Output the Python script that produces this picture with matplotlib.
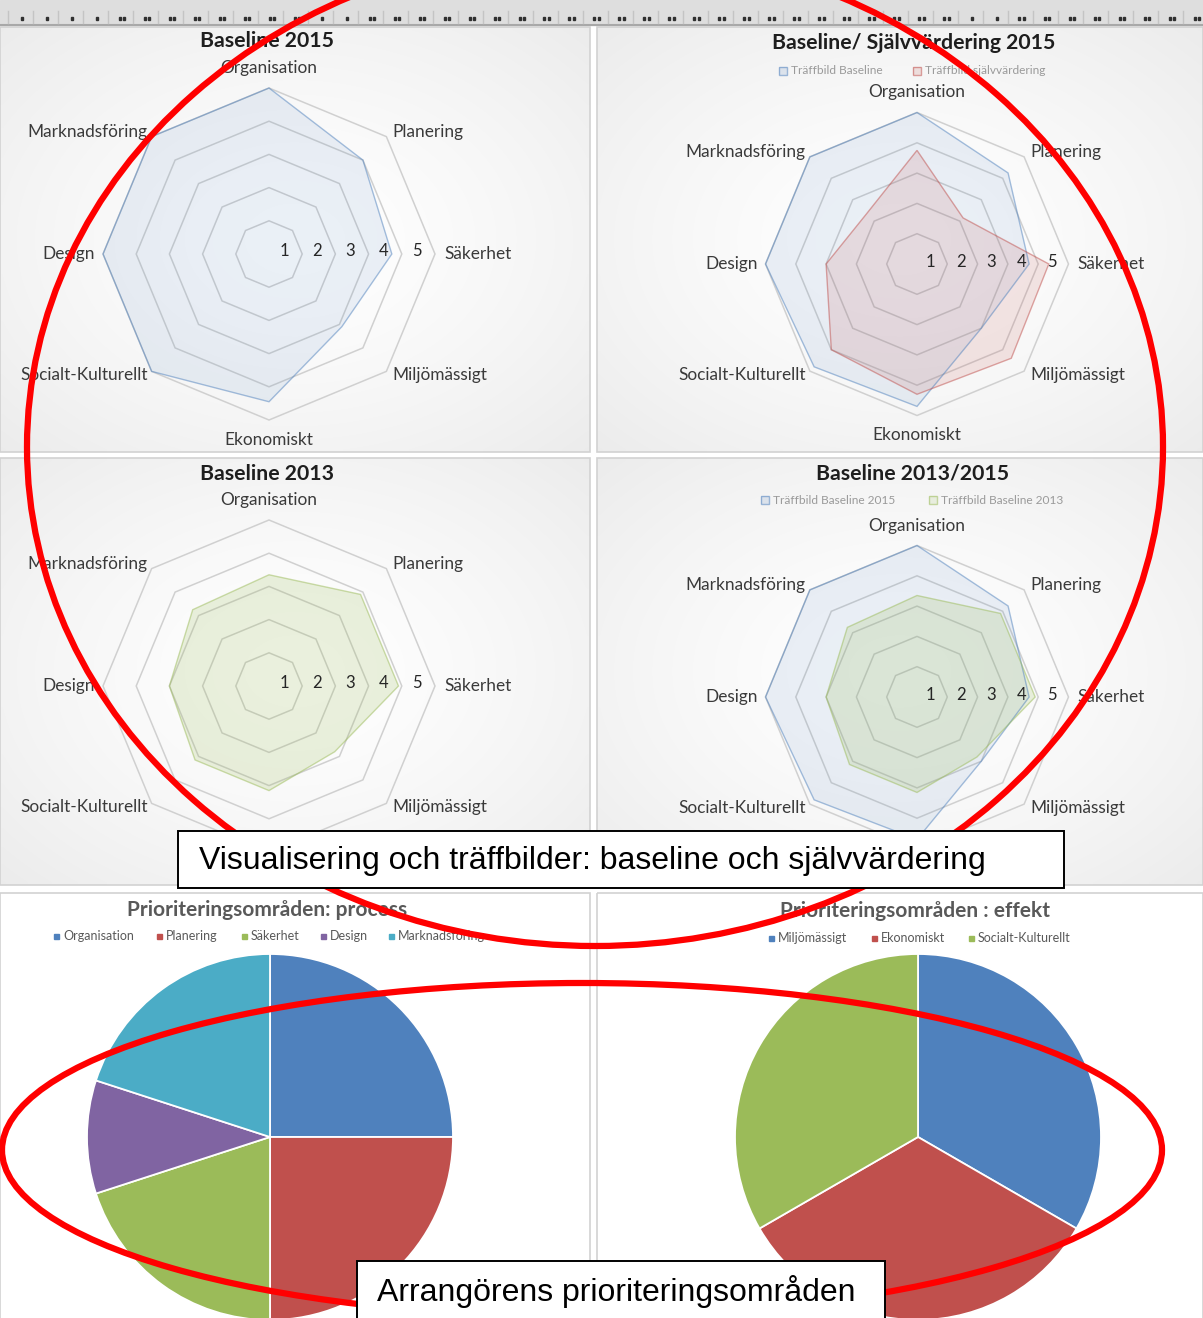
import numpy as np
import matplotlib
matplotlib.use("Agg")
import matplotlib.pyplot as plt
from matplotlib.patches import Rectangle, Ellipse, Polygon

plt.rcParams['font.family'] = ['Lato', 'DejaVu Sans']

# ---- data ----
categories = ["Organisation", "Planering", "Säkerhet", "Miljömässigt",
              "Ekonomiskt", "Socialt-Kulturellt", "Design", "Marknadsföring"]
scale_ticks = [1, 2, 3, 4, 5]

baseline_2015 = [5.0, 4.0, 3.7, 3.1, 4.45, 5.0, 5.0, 5.0]
baseline_2015_b = [5.0, 4.25, 3.7, 3.0, 4.7, 4.8, 5.0, 5.0]
sjalvvardering_2015 = [3.75, 2.15, 4.35, 4.4, 4.3, 4.0, 3.0, 2.35]
baseline_2013 = [3.35, 3.9, 3.9, 2.8, 3.15, 3.15, 3.0, 3.25]

process_labels = ["Organisation", "Planering", "Säkerhet", "Design", "Marknadsföring"]
process_values = [25, 25, 20, 10, 20]
effekt_labels = ["Miljömässigt", "Ekonomiskt", "Socialt-Kulturellt"]
effekt_values = [1, 1, 1]

# word ruler: number of dots in each 25 px segment
ruler_dots = [1] * 4 + [2] * 8 + [1] * 2 + [2] * 24 + [1] * 2 + [2] * 8

BLUE = "#4F81BD"
RED = "#C0504D"
GREEN = "#9BBB59"
PURPLE = "#8064A2"
CYAN = "#4BACC6"

W, H = 1203, 1318
fig = plt.figure(figsize=(W / 100, H / 100), dpi=100)
fig.patch.set_facecolor("white")

# background axes in pixel coordinates
bg = fig.add_axes([0, 0, 1, 1])
bg.set_xlim(0, W)
bg.set_ylim(H, 0)
bg.axis("off")

# ruler
bg.add_patch(Rectangle((0, 0), W, 25, color="#DEDEDE", zorder=1))
bg.plot([0, W], [24.5, 24.5], color="#A8A8A8", lw=1.5, zorder=2)
for k, n in enumerate(ruler_dots):
    xd = 8.3 + 25 * k
    bg.plot([xd, xd], [11, 23], color="#C4C4C4", lw=1, zorder=2)
    xc = xd + 13.4
    offs = [0] if n == 1 else [-2.2, 2.2]
    for o in offs:
        bg.add_patch(Rectangle((xc + o - 1, 16.5), 2, 3, color="#303030", zorder=3))


def panel_bg(x0, y0, x1, y1, gradient=True):
    if gradient:
        yy, xx = np.mgrid[0:1:80j, 0:1:100j]
        d = np.sqrt(((xx - 0.5) / 0.5) ** 2 + ((yy - 0.5) / 0.5) ** 2) / np.sqrt(2)
        v = 1 - 0.075 * d ** 1.4
        img = np.dstack([v, v, v])
        bg.imshow(img, extent=(x0, x1, y1, y0), aspect="auto",
                  interpolation="bilinear", zorder=1)
    bg.add_patch(Rectangle((x0, y0), x1 - x0, y1 - y0, fill=False,
                           ec="#D2D2D2", lw=1.2, zorder=2))


panel_bg(0, 27, 590, 452)
panel_bg(597, 27, 1203, 452)
panel_bg(0, 458, 590, 885)
panel_bg(597, 458, 1203, 885)
panel_bg(0, 893, 590, 1330, gradient=False)
panel_bg(597, 893, 1203, 1330, gradient=False)
bg.set_xlim(0, W)
bg.set_ylim(H, 0)

label_style = [
    (0, 12, "center", "bottom"),
    (6, 5, "left", "center"),
    (9, 0, "left", "center"),
    (6, -4, "left", "center"),
    (0, -12, "center", "top"),
    (-4, -4, "right", "center"),
    (-8, 0, "right", "center"),
    (-4, 5, "right", "center"),
]


def radar(cx, cy, scale, series):
    L = 7.0
    size = 2 * L * scale
    ax = fig.add_axes([(cx - size / 2) / W, 1 - (cy + size / 2) / H, size / W, size / H])
    ax.set_xlim(-L, L)
    ax.set_ylim(-L, L)
    ax.axis("off")
    ang = np.deg2rad(np.arange(len(categories)) * 45)
    for k in scale_ticks:
        ax.add_patch(Polygon(np.c_[k * np.sin(ang), k * np.cos(ang)], closed=True,
                             fill=False, ec="#D0D0D0", lw=1.1, zorder=1))
    for vals, color, fa in series:
        v = np.array(vals)
        ax.fill(v * np.sin(ang), v * np.cos(ang), fc=color, alpha=fa, zorder=2)
        ax.fill(v * np.sin(ang), v * np.cos(ang), fill=False, ec=color, alpha=0.5,
                lw=1.0, zorder=3)
    for k in scale_ticks:
        ax.text(k - 0.55, 0.08, str(k), ha="center", va="center", fontsize=12,
                color="#262626", zorder=4)
    for i, cat in enumerate(categories):
        dx, dy, ha, va = label_style[i]
        ax.annotate(cat, xy=(5 * np.sin(ang[i]), 5 * np.cos(ang[i])),
                    xytext=(dx * 0.72, dy * 0.72), textcoords="offset points",
                    ha=ha, va=va, fontsize=12.4, color="#3A3A3A", zorder=4)
    return ax


radar(269, 254, 33.2, [(baseline_2015, BLUE, 0.11)])
radar(917, 264, 30.3, [(baseline_2015_b, BLUE, 0.11), (sjalvvardering_2015, RED, 0.14)])
radar(269, 686, 33.2, [(baseline_2013, GREEN, 0.2)])
radar(917, 697, 30.3, [(baseline_2015_b, BLUE, 0.11), (baseline_2013, GREEN, 0.2)])

title_kw = dict(ha="center", va="center", fontsize=15.3, fontweight="bold",
                color="#1E1E1E", zorder=5)
bg.text(267, 41, "Baseline 2015", **title_kw)
bg.text(914, 43, "Baseline/ Självvärdering 2015", **title_kw)
bg.text(267, 474, "Baseline 2013", **title_kw)
bg.text(913, 474, "Baseline 2013/2015", **title_kw)


def radar_legend(y, items):
    for x, label, color in items:
        bg.add_patch(Rectangle((x - 4, y - 4), 8, 8, fill=True, fc=color, alpha=0.15, zorder=5))
        bg.add_patch(Rectangle((x - 4, y - 4), 8, 8, fill=False, ec=color, alpha=0.55,
                               lw=1, zorder=5))
        bg.text(x + 8, y, label, ha="left", va="center", fontsize=8.6,
                color="#9A9A9A", zorder=5)


radar_legend(71, [(783, "Träffbild Baseline", BLUE), (917, "Träffbild självvärdering", RED)])
radar_legend(500, [(765, "Träffbild Baseline 2015", BLUE), (933, "Träffbild Baseline 2013", GREEN)])


def pie(cx, cy, r, values, colors):
    ax = fig.add_axes([(cx - r) / W, 1 - (cy + r) / H, 2 * r / W, 2 * r / H])
    ax.pie(values, colors=colors, startangle=90, counterclock=False,
           wedgeprops=dict(edgecolor="white", linewidth=1.3))
    ax.set_xlim(-1, 1)
    ax.set_ylim(-1, 1)
    ax.axis("off")
    return ax


process_colors = [BLUE, RED, GREEN, PURPLE, CYAN]
effekt_colors = [BLUE, RED, GREEN]
pie(270, 1137, 183, process_values, process_colors)
pie(918, 1137, 183, effekt_values, effekt_colors)

ptitle_kw = dict(ha="center", va="center", fontsize=15, fontweight="bold",
                 color="#595959", zorder=5)
bg.text(267, 910, "Prioriteringsområden: process", **ptitle_kw)
bg.text(915, 911, "Prioriteringsområden : effekt", **ptitle_kw)


def pie_legend(y, xs, labels, colors):
    for x, label, color in zip(xs, labels, colors):
        bg.add_patch(Rectangle((x - 2.5, y - 2.5), 5, 5, color=color, zorder=5))
        bg.text(x + 7, y, label, ha="left", va="center", fontsize=9,
                color="#595959", zorder=5)


pie_legend(936, [56, 159, 244, 323, 391], process_labels, process_colors)
pie_legend(938, [771, 874, 971], effekt_labels, effekt_colors)

# overlay: red ellipses and caption boxes
ov = fig.add_axes([0, 0, 1, 1], zorder=10)
ov.set_xlim(0, W)
ov.set_ylim(H, 0)
ov.axis("off")
ov.patch.set_alpha(0)

ov.add_patch(Ellipse((595, 447), 2 * 568, 2 * 499, fill=False, ec="#FF0000", lw=4.5, zorder=1))
ov.add_patch(Ellipse((582, 1150), 2 * 580, 2 * 167, fill=False, ec="#FF0000", lw=4.5, zorder=1))

box_font = ["Liberation Sans", "DejaVu Sans"]
ov.add_patch(Rectangle((178, 831), 886, 57, fc="white", ec="black", lw=1.4, zorder=2))
ov.text(199, 861, "Visualisering och träffbilder: baseline och självvärdering",
        ha="left", va="center", fontsize=23, family=box_font, color="black", zorder=3)
ov.add_patch(Rectangle((357, 1261), 528, 70, fc="white", ec="black", lw=1.4, zorder=2))
ov.text(377, 1291, "Arrangörens prioriteringsområden",
        ha="left", va="center", fontsize=23, family=box_font, color="black", zorder=3)

fig.savefig("out.png", dpi=100)
